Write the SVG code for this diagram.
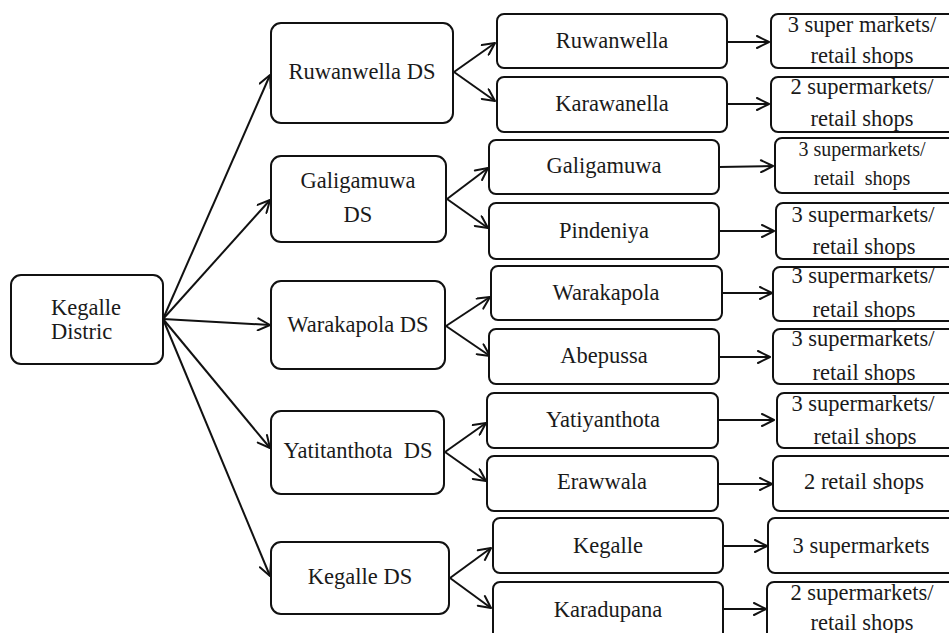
<svg xmlns="http://www.w3.org/2000/svg" width="949" height="633" viewBox="0 0 949 633" font-family="Liberation Serif, Times New Roman, DejaVu Serif, serif">
<style>
.b{fill:#fff;stroke:#111;stroke-width:2}
.t{font-size:22.5px;fill:#1a1a1a;text-anchor:middle}
.l{text-anchor:start}
.s{font-size:20px}
.c line{stroke:#111;stroke-width:2;marker-end:url(#ah)}
</style>
<defs>
<marker id="ah" markerUnits="userSpaceOnUse" markerWidth="16" markerHeight="14" refX="14" refY="7" orient="auto">
<path d="M2,1 L14,7 L2,13" fill="none" stroke="#111" stroke-width="2" stroke-linecap="round" stroke-linejoin="round"/>
</marker>
</defs>
<rect width="949" height="633" fill="#fff"/>
<g class="c" id="connectors">
<line x1="163" y1="319" x2="270" y2="75"/>
<line x1="163" y1="319" x2="270" y2="200"/>
<line x1="163" y1="319" x2="270" y2="325"/>
<line x1="163" y1="319" x2="270" y2="448"/>
<line x1="163" y1="319" x2="270" y2="576"/>
<line x1="454" y1="72" x2="495" y2="43"/>
<line x1="454" y1="72" x2="495" y2="101"/>
<line x1="447" y1="199" x2="488" y2="168"/>
<line x1="447" y1="199" x2="488" y2="228"/>
<line x1="446" y1="326" x2="490" y2="297"/>
<line x1="446" y1="326" x2="490" y2="356"/>
<line x1="445" y1="452" x2="486" y2="423"/>
<line x1="445" y1="452" x2="486" y2="481"/>
<line x1="450" y1="578" x2="491" y2="548"/>
<line x1="450" y1="578" x2="491" y2="608"/>
<line x1="727" y1="42" x2="769" y2="42"/>
<line x1="727" y1="104" x2="769" y2="104"/>
<line x1="719" y1="167" x2="773" y2="166"/>
<line x1="719" y1="231" x2="774" y2="231"/>
<line x1="722" y1="293" x2="772" y2="293"/>
<line x1="719" y1="357" x2="770" y2="357"/>
<line x1="718" y1="420" x2="774" y2="420"/>
<line x1="718" y1="484" x2="772" y2="484"/>
<line x1="723" y1="546" x2="767" y2="546"/>
<line x1="723" y1="609" x2="766" y2="609"/>
</g>
<g id="kegalle-district"><rect class="b" x="11" y="275" width="152" height="89" rx="10"/>
<text class="t l" x="51" y="315">Kegalle</text>
<text class="t l" x="51" y="339">Distric</text></g>
<g id="ruwanwella-ds"><rect class="b" x="271" y="23" width="182" height="100" rx="10"/><text class="t" x="362" y="79">Ruwanwella DS</text></g>
<g id="galigamuwa-ds"><rect class="b" x="271" y="156" width="175" height="86" rx="10"/><text class="t" x="358" y="188">Galigamuwa</text><text class="t" x="358" y="222">DS</text></g>
<g id="warakapola-ds"><rect class="b" x="271" y="281" width="174" height="88" rx="10"/><text class="t" x="358" y="332">Warakapola DS</text></g>
<g id="yatitanthota-ds"><rect class="b" x="271" y="411" width="173" height="83" rx="10"/><text class="t" x="358" y="458" xml:space="preserve">Yatitanthota  DS</text></g>
<g id="kegalle-ds"><rect class="b" x="271" y="542" width="178" height="72" rx="10"/><text class="t" x="360" y="584">Kegalle DS</text></g>
<g id="ruwanwella"><rect class="b" x="497" y="14" width="230" height="54" rx="7"/><text class="t" x="612" y="48">Ruwanwella</text></g>
<g id="karawanella"><rect class="b" x="497" y="77" width="230" height="55" rx="7"/><text class="t" x="612" y="111">Karawanella</text></g>
<g id="galigamuwa"><rect class="b" x="489" y="140" width="230" height="54" rx="7"/><text class="t" x="604" y="173">Galigamuwa</text></g>
<g id="pindeniya"><rect class="b" x="489" y="203" width="230" height="56" rx="7"/><text class="t" x="604" y="238">Pindeniya</text></g>
<g id="warakapola"><rect class="b" x="491" y="266" width="231" height="54" rx="7"/><text class="t" x="606" y="300">Warakapola</text></g>
<g id="abepussa"><rect class="b" x="489" y="329" width="230" height="55" rx="7"/><text class="t" x="604" y="363">Abepussa</text></g>
<g id="yatiyanthota"><rect class="b" x="487" y="393" width="231" height="55" rx="7"/><text class="t" x="603" y="427">Yatiyanthota</text></g>
<g id="erawwala"><rect class="b" x="487" y="456" width="231" height="55" rx="7"/><text class="t" x="602" y="489">Erawwala</text></g>
<g id="kegalle"><rect class="b" x="493" y="518" width="230" height="55" rx="7"/><text class="t" x="608" y="553">Kegalle</text></g>
<g id="karadupana"><rect class="b" x="493" y="582" width="230" height="70" rx="7"/><text class="t" x="608" y="617">Karadupana</text></g>
<g id="r1"><rect class="b" x="771" y="14" width="190" height="54" rx="7"/><text class="t" x="862" y="32">3 super markets/</text><text class="t" x="862" y="63">retail shops</text></g>
<g id="r2"><rect class="b" x="771" y="77" width="190" height="55" rx="7"/><text class="t" x="862" y="94">2 supermarkets/</text><text class="t" x="862" y="126">retail shops</text></g>
<g id="r3"><rect class="b" x="775" y="138" width="190" height="55" rx="7"/><text class="t s" x="862" y="156">3 supermarkets/</text><text class="t s" x="862" y="185" xml:space="preserve">retail  shops</text></g>
<g id="r4"><rect class="b" x="776" y="203" width="190" height="56" rx="7"/><text class="t" x="863" y="222">3 supermarkets/</text><text class="t" x="864" y="254">retail shops</text></g>
<g id="r5"><rect class="b" x="773" y="267" width="190" height="54" rx="7"/><text class="t" x="863" y="283">3 supermarkets/</text><text class="t" x="864" y="317">retail shops</text></g>
<g id="r6"><rect class="b" x="773" y="329" width="190" height="55" rx="7"/><text class="t" x="863" y="346">3 supermarkets/</text><text class="t" x="864" y="380">retail shops</text></g>
<g id="r7"><rect class="b" x="777" y="393" width="190" height="55" rx="7"/><text class="t" x="863" y="411">3 supermarkets/</text><text class="t" x="865" y="444">retail shops</text></g>
<g id="r8"><rect class="b" x="773" y="456" width="190" height="55" rx="7"/><text class="t" x="864" y="489">2 retail shops</text></g>
<g id="r9"><rect class="b" x="768" y="518" width="190" height="55" rx="7"/><text class="t" x="861" y="553">3 supermarkets</text></g>
<g id="r10"><rect class="b" x="767" y="582" width="190" height="70" rx="7"/><text class="t" x="862" y="600">2 supermarkets/</text><text class="t" x="862" y="630">retail shops</text></g>
</svg>
